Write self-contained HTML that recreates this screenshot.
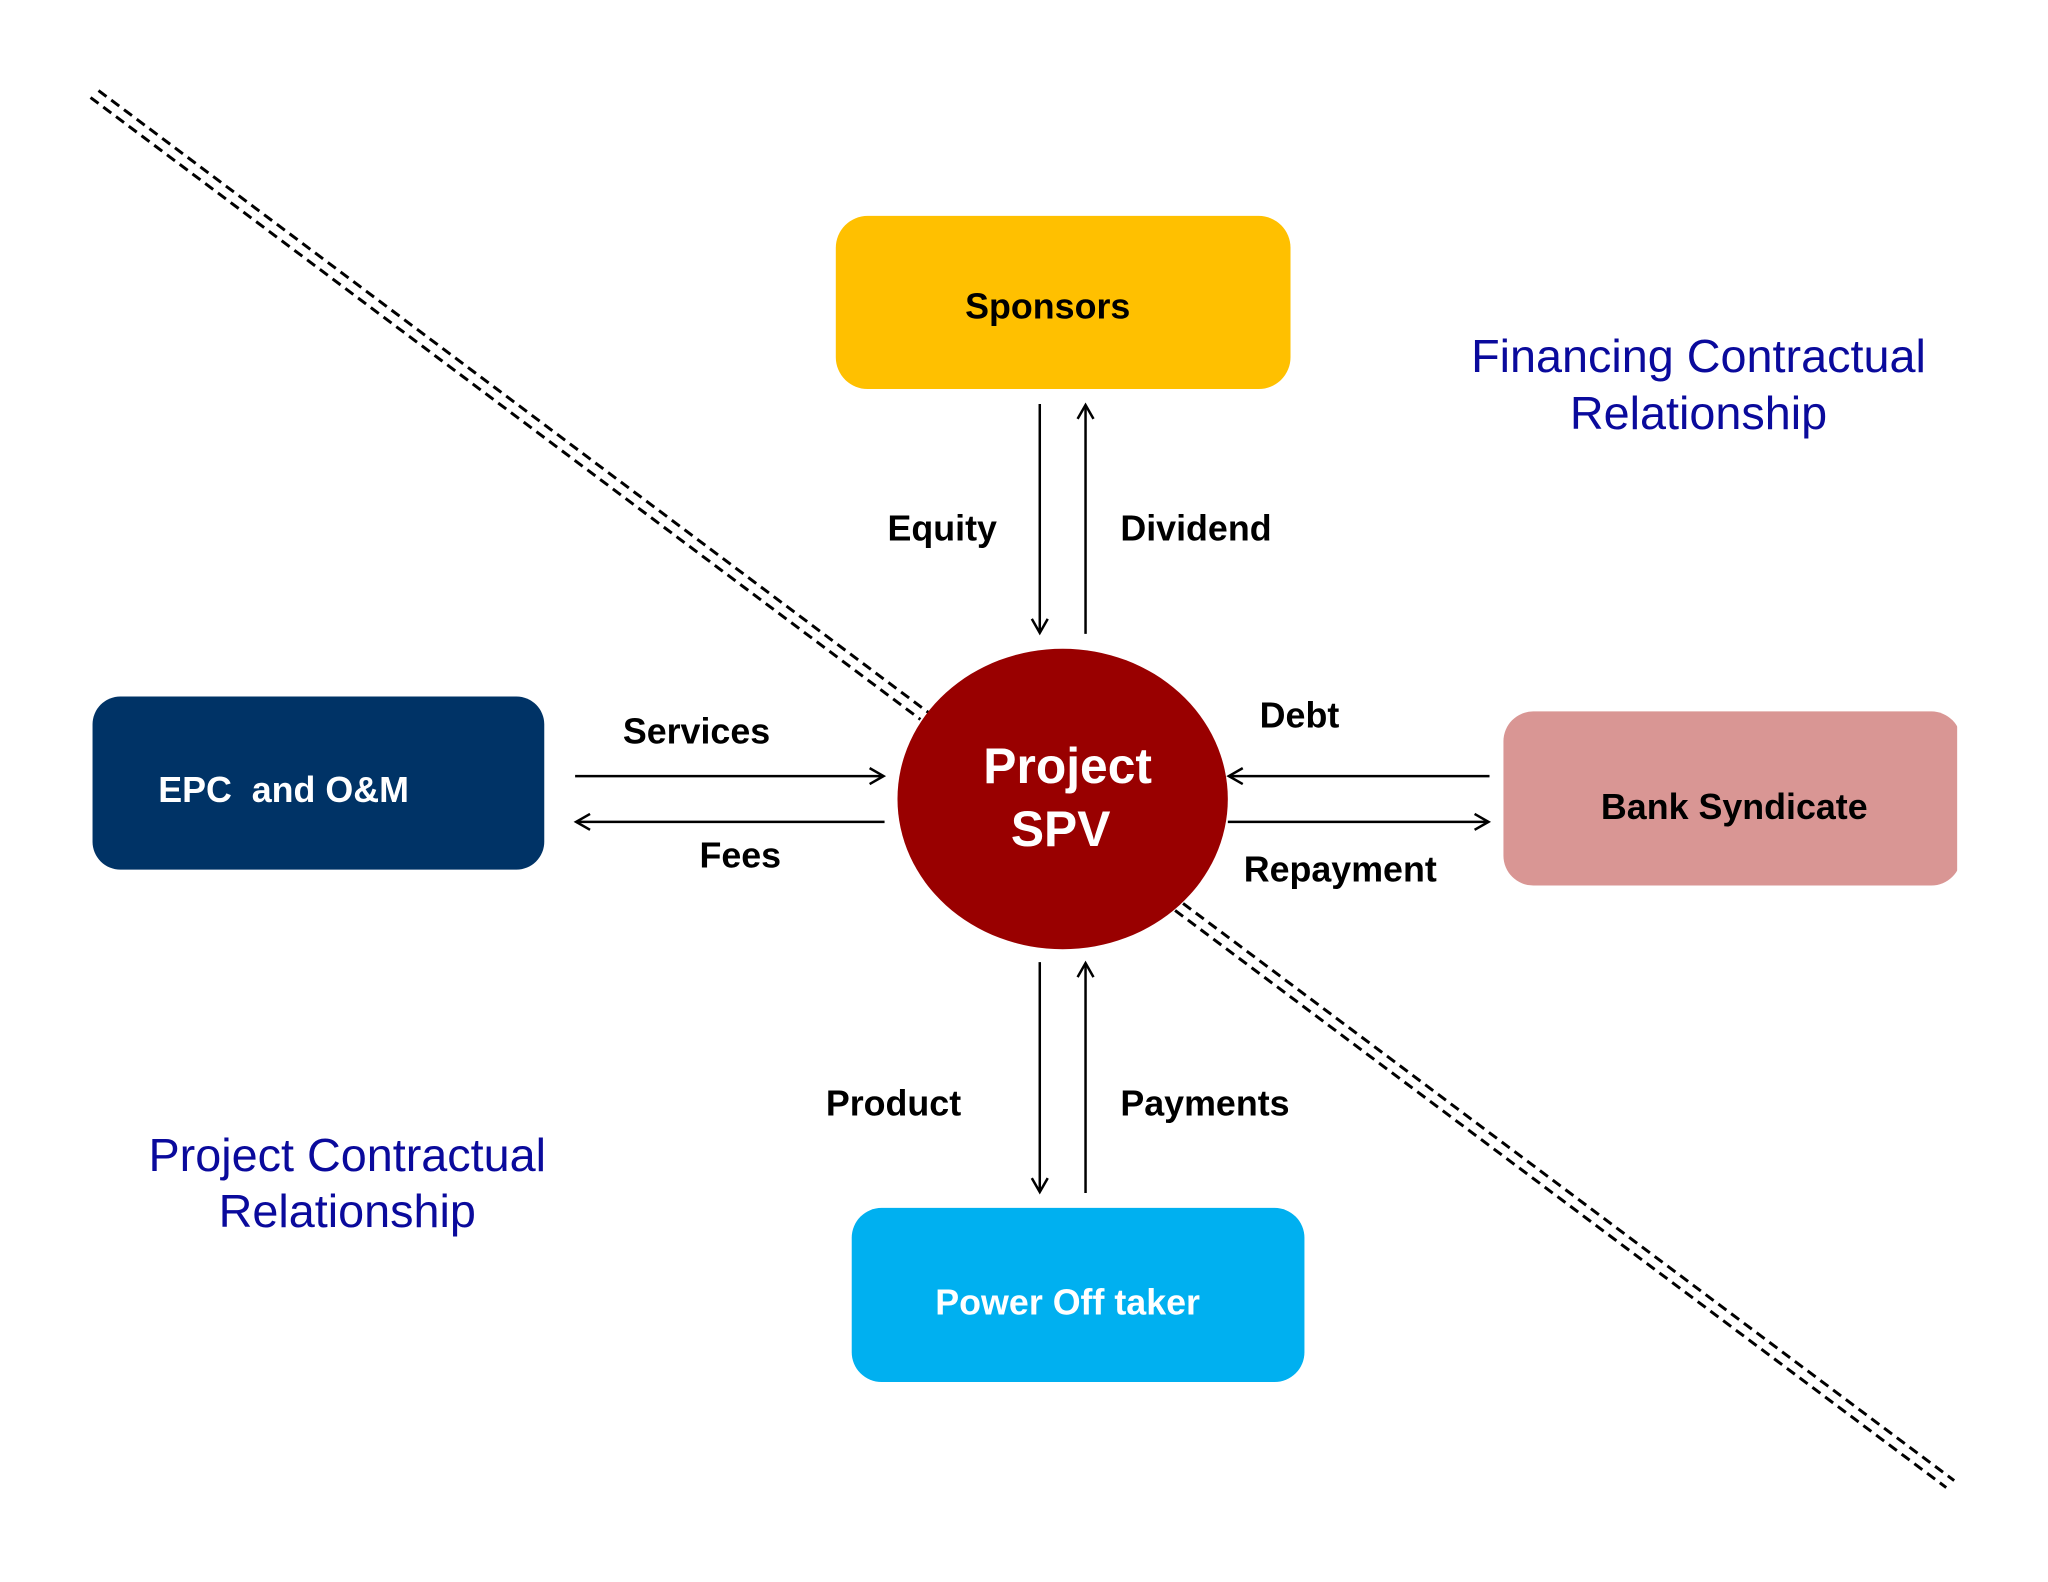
<!DOCTYPE html>
<html><head><meta charset="utf-8"><style>
html,body{margin:0;padding:0;background:#fff}
svg{display:block}
text{font-family:"Liberation Sans",Arial,sans-serif}
.b{font-weight:bold;font-size:36px;fill:#000}
.bl{font-size:47px;fill:#0a0a9c}
</style></head><body>
<svg width="2048" height="1582" viewBox="0 0 2048 1582" xmlns="http://www.w3.org/2000/svg">
<defs>
<marker id="ah" markerWidth="20" markerHeight="20" refX="16" refY="10" orient="auto" markerUnits="userSpaceOnUse">
<path d="M2,2 L16,10 L2,18" fill="none" stroke="#000" stroke-width="2.5"/>
</marker>
</defs>
<g transform="scale(0.995)">
<g stroke="#000" stroke-width="3" stroke-dasharray="10,6" fill="none">
<line x1="91" y1="98" x2="925" y2="723"/>
<line x1="99" y1="91" x2="933" y2="716"/>
<line x1="1181" y1="915" x2="1956" y2="1495"/>
<line x1="1189" y1="908" x2="1964" y2="1488"/>
</g>
<rect x="840" y="217" width="457" height="174" rx="32" fill="#FFC000"/>
<rect x="93" y="700" width="454" height="174" rx="28" fill="#003366"/>
<rect x="1511" y="715" width="460" height="175" rx="30" fill="#D99694"/>
<rect x="1967" y="700" width="90" height="200" fill="#fff"/>
<rect x="856" y="1214" width="455" height="175" rx="30" fill="#00B0F0"/>
<ellipse cx="1068" cy="803" rx="166" ry="151" fill="#990000"/>
<g stroke="#000" stroke-width="2.5" fill="none">
<line x1="1045" y1="406" x2="1045" y2="636" marker-end="url(#ah)"/>
<line x1="1091" y1="637" x2="1091" y2="407" marker-end="url(#ah)"/>
<line x1="1045" y1="967" x2="1045" y2="1198" marker-end="url(#ah)"/>
<line x1="1091" y1="1199" x2="1091" y2="968" marker-end="url(#ah)"/>
<line x1="578" y1="780" x2="888" y2="780" marker-end="url(#ah)"/>
<line x1="889" y1="826" x2="579" y2="826" marker-end="url(#ah)"/>
<line x1="1497" y1="780" x2="1235" y2="780" marker-end="url(#ah)"/>
<line x1="1234" y1="826" x2="1496" y2="826" marker-end="url(#ah)"/>
</g>
<text class="b" x="1053" y="320" text-anchor="middle">Sponsors</text>
<text class="b" x="159" y="806" style="fill:#fff">EPC&#160; and O&amp;M</text>
<text class="b" x="1743" y="823" text-anchor="middle">Bank Syndicate</text>
<text class="b" x="1073" y="1321" text-anchor="middle" style="fill:#fff">Power Off taker</text>
<text x="1073" y="787" text-anchor="middle" font-weight="bold" font-size="50" fill="#fff">Project</text>
<text x="1066" y="850" text-anchor="middle" font-weight="bold" font-size="50" fill="#fff">SPV</text>
<text class="b" x="947" y="543" text-anchor="middle">Equity</text>
<text class="b" x="1126" y="543">Dividend</text>
<text class="b" x="700" y="747" text-anchor="middle">Services</text>
<text class="b" x="744" y="872" text-anchor="middle">Fees</text>
<text class="b" x="1306" y="731" text-anchor="middle">Debt</text>
<text class="b" x="1347" y="886" text-anchor="middle">Repayment</text>
<text class="b" x="898" y="1121" text-anchor="middle">Product</text>
<text class="b" x="1126" y="1121">Payments</text>
<text class="bl" x="1707" y="374" text-anchor="middle">Financing Contractual</text>
<text class="bl" x="1707" y="431" text-anchor="middle">Relationship</text>
<text class="bl" x="349" y="1177" text-anchor="middle">Project Contractual</text>
<text class="bl" x="349" y="1233" text-anchor="middle">Relationship</text>
</g>
</svg>
</body></html>
